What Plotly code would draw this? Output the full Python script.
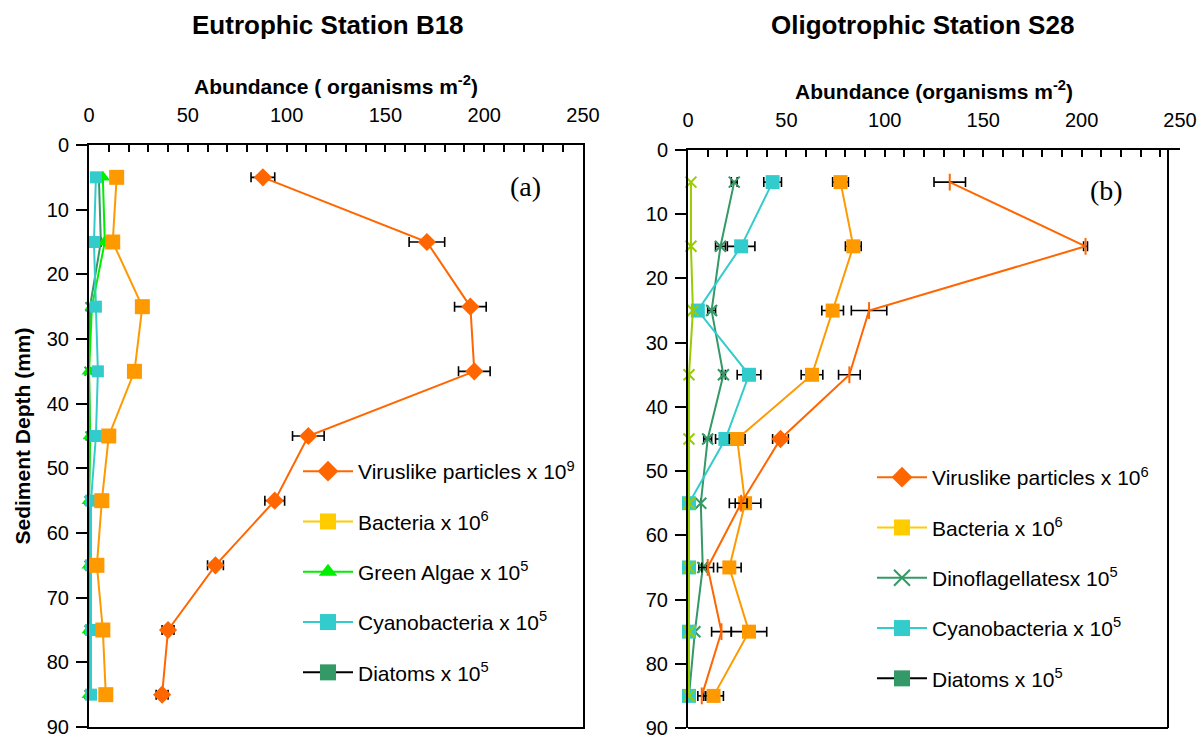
import plotly.graph_objects as go

W, H = 1201, 740
depth = [5, 15, 25, 35, 45, 55, 65, 75, 85]
ytick_vals = [0, 10, 20, 30, 40, 50, 60, 70, 80, 90]
xtick_vals = [0, 50, 100, 150, 200, 250]

# Panel (a) Eutrophic Station B18
a_virus = [88, 171, 193, 195, 111, 94, 64, 40, 37]
a_virus_err = [6, 9, 8, 8, 8, 5, 4, 3, 3]
a_bacteria = [14, 12, 27, 23, 10, 6.5, 4, 7, 8.5]
a_green = [7, 8, 1.5, 0, 0.5, 0, 0, 0, 0]
a_cyano = [3.5, 2.5, 3.5, 4.5, 3.5, 1, 1, 1, 1]
a_diatoms = [5, 6, 0.5, 0, 0.5, 0, 0, 0, 0]
a_diatoms_err = [0, 0, 2.5, 0, 0, 0, 0, 0, 0]

# Panel (b) Oligotrophic Station S28
b_virus = [133, 202, 92, 82, 47, 27, 10, 17, 7]
b_virus_err = [8, 1, 9, 5.5, 4, 3, 3, 5, 2]
b_bacteria = [77.5, 84, 73.5, 63, 25, 29, 21, 31, 13]
b_bacteria_err = [4, 4, 5.5, 5.5, 4, 8, 6, 9, 5]
b_dino = [23.5, 16.5, 12, 18, 10, 6.5, 7.5, 3.5, 0.5]
b_dino_err = [1.5, 2.5, 2, 1, 2, 0, 2, 0, 0]
b_cyano = [43, 27, 5, 31, 19, 0.5, 0.5, 0.5, 0.5]
b_cyano_err = [4.5, 7, 0, 6, 5, 0, 0, 0, 0]
b_diatoms = [1.5, 1.5, 2.5, 0.5, 0.5, 0.5, 0.5, 0.5, 0.5]

a_legend = ["Viruslike particles x 10<sup>9</sup>", "Bacteria x 10<sup>6</sup>",
            "Green Algae x 10<sup>5</sup>", "Cyanobacteria x 10<sup>5</sup>",
            "Diatoms x 10<sup>5</sup>"]
b_legend = ["Viruslike particles x 10<sup>6</sup>", "Bacteria x 10<sup>6</sup>",
            "Dinoflagellatesx 10<sup>5</sup>", "Cyanobacteria x 10<sup>5</sup>",
            "Diatoms x 10<sup>5</sup>"]

C_VIRUS = "#FF6600"
C_BACT = "#FF9900"
C_BACT_LEG = "#FFCC00"
C_GREEN = "#00EE00"
C_CYAN = "#33CCCC"
C_DIAT = "#339966"
C_YG = "#99CC00"

FONT = "Liberation Sans, Arial, sans-serif"

fig = go.Figure()


def err(arr):
    return dict(type="data", array=arr, color="black", thickness=1.6, width=5, visible=True)


def data_trace(x, color, symbol, size, xa, ya, e=None, lw=2, mcolor=None):
    fig.add_trace(go.Scatter(
        x=x, y=depth, mode="lines+markers", xaxis=xa, yaxis=ya,
        line=dict(color=color, width=lw),
        marker=dict(symbol=symbol, size=size, color=mcolor or color,
                    line=dict(width=2 if "x" in str(symbol) else 0, color=mcolor or color)),
        error_x=err(e) if e is not None else None,
        showlegend=False, cliponaxis=False, hoverinfo="skip"))


# Panel (a) data
data_trace(a_diatoms, C_DIAT, "x-thin", 9, "x", "y", a_diatoms_err, lw=2)
data_trace(a_green, C_GREEN, "triangle-up", 13, "x", "y", lw=2)
data_trace(a_cyano, C_CYAN, "square", 12, "x", "y", lw=2)
data_trace(a_bacteria, C_BACT, "square", 15, "x", "y", lw=2)
data_trace(a_virus, C_VIRUS, "diamond", 14, "x", "y", a_virus_err, lw=2)

# Panel (b) data
data_trace(b_dino, C_DIAT, "x-thin", 11, "x2", "y2", b_dino_err, lw=2)
data_trace(b_cyano, C_CYAN, "square", 14, "x2", "y2", b_cyano_err, lw=2)
data_trace(b_bacteria, C_BACT, "square", 14, "x2", "y2", b_bacteria_err, lw=2)
b_virus_sym = ["line-ns", "line-ns", "line-ns", "line-ns", "diamond", "line-ns", "line-ns", "line-ns", "line-ns"]
fig.add_trace(go.Scatter(
    x=b_virus, y=depth, mode="lines+markers", xaxis="x2", yaxis="y2",
    line=dict(color=C_VIRUS, width=2),
    marker=dict(symbol=b_virus_sym, size=12, color=C_VIRUS, line=dict(width=2, color=C_VIRUS)),
    error_x=err(b_virus_err), showlegend=False, cliponaxis=False, hoverinfo="skip"))
data_trace(b_diatoms, C_YG, "x-thin", 11, "x2", "y2", lw=2)

# Legend-only traces
leg_a = [
    (a_legend[0], C_VIRUS, C_VIRUS, "diamond"),
    (a_legend[1], C_BACT_LEG, C_BACT_LEG, "square"),
    (a_legend[2], C_GREEN, C_GREEN, "triangle-up"),
    (a_legend[3], C_CYAN, C_CYAN, "square"),
    (a_legend[4], "black", C_DIAT, "square"),
]
leg_b = [
    (b_legend[0], C_VIRUS, C_VIRUS, "diamond"),
    (b_legend[1], C_BACT_LEG, C_BACT_LEG, "square"),
    (b_legend[2], C_DIAT, C_DIAT, "x-thin"),
    (b_legend[3], C_CYAN, C_CYAN, "square"),
    (b_legend[4], "black", C_DIAT, "square"),
]
for i, (name, lc, mc, sym) in enumerate(leg_a):
    fig.add_trace(go.Scatter(x=[None], y=[None], mode="lines+markers", name=name,
                             xaxis="x", yaxis="y", legend="legend", legendgroup="a%d" % i,
                             line=dict(color=lc, width=2),
                             marker=dict(symbol=sym, size=18, color=mc, line=dict(width=2 if "x" in sym else 0, color=mc))))
for i, (name, lc, mc, sym) in enumerate(leg_b):
    fig.add_trace(go.Scatter(x=[None], y=[None], mode="lines+markers", name=name,
                             xaxis="x2", yaxis="y2", legend="legend2", legendgroup="b%d" % i,
                             line=dict(color=lc, width=2),
                             marker=dict(symbol=sym, size=18, color=mc, line=dict(width=2 if "x" in sym else 0, color=mc))))


def px(xp):
    return xp / W


def py(yp):
    return 1 - yp / H


axis_common = dict(
    showgrid=False, zeroline=False, showline=True, linecolor="black", linewidth=2,
    tickfont=dict(family=FONT, size=20, color="black"), automargin=False,
)

xa_common = dict(axis_common, range=[0, 250], side="top", tickvals=xtick_vals,
                 ticks="inside", ticklen=7, tickwidth=1.5, tickcolor="black",
                 minor=dict(dtick=10, ticks="inside", ticklen=7, tickwidth=1.5, tickcolor="black"),
                 ticklabelstandoff=13)
ya_common = dict(axis_common, range=[90, 0], tickvals=ytick_vals, ticks="outside",
                 ticklen=11, tickwidth=1.5, tickcolor="black", ticklabelstandoff=3)

TITLE_FONT = dict(family=FONT, size=21, color="black")

fig.update_layout(
    width=W, height=H, margin=dict(l=0, r=0, t=0, b=0, autoexpand=False),
    paper_bgcolor="white", plot_bgcolor="white",
    font=dict(family=FONT, color="black"),
    xaxis=dict(xa_common, domain=[px(89), px(583)], anchor="y", mirror=True,
               title=dict(text="<b>Abundance ( organisms m<sup>-2</sup>)</b>",
                          font=TITLE_FONT, standoff=4)),
    yaxis=dict(ya_common, domain=[py(727), py(145)], anchor="x", mirror=True,
               title=dict(text="<b>Sediment Depth (mm)</b>", font=TITLE_FONT, standoff=10)),
    xaxis2=dict(xa_common, domain=[px(688), px(1180)], anchor="y2",
                title=dict(text="<b>Abundance (organisms m<sup>-2</sup>)</b>",
                           font=TITLE_FONT, standoff=4)),
    yaxis2=dict(ya_common, domain=[py(728), py(150)], anchor="x2"),
    legend=dict(x=px(298), y=py(451), xanchor="left", yanchor="top",
                font=dict(family=FONT, size=21, color="black"),
                bgcolor="rgba(0,0,0,0)", traceorder="grouped", tracegroupgap=20,
                itemwidth=50),
    legend2=dict(x=px(872), y=py(457), xanchor="left", yanchor="top",
                 font=dict(family=FONT, size=21, color="black"),
                 bgcolor="rgba(0,0,0,0)", traceorder="grouped", tracegroupgap=20,
                 itemwidth=50),
    showlegend=True,
)

# Panel titles and labels
fig.add_annotation(text="<b>Eutrophic Station B18</b>", x=px(328), y=py(25), xref="paper", yref="paper",
                   xanchor="center", yanchor="middle",
                   showarrow=False, font=dict(family=FONT, size=26, color="black"))
fig.add_annotation(text="<b>Oligotrophic Station S28</b>", x=px(922), y=py(25), xref="paper", yref="paper",
                   xanchor="center", yanchor="middle",
                   showarrow=False, font=dict(family=FONT, size=26, color="black"))
fig.add_annotation(text="(a)", x=px(525), y=py(186), xref="paper", yref="paper",
                   xanchor="center", yanchor="middle",
                   showarrow=False, font=dict(family="Liberation Serif, serif", size=28, color="black"))
fig.add_annotation(text="(b)", x=px(1106), y=py(190), xref="paper", yref="paper",
                   xanchor="center", yanchor="middle",
                   showarrow=False, font=dict(family="Liberation Serif, serif", size=28, color="black"))

# Panel (b) frame: right and bottom lines
fig.add_shape(type="line", xref="paper", yref="paper", x0=px(1168), x1=px(1168), y0=py(150), y1=py(728),
              line=dict(color="black", width=2))
fig.add_shape(type="line", xref="paper", yref="paper", x0=px(688), x1=px(1168), y0=py(728), y1=py(728),
              line=dict(color="black", width=2))

fig.write_html("out.html", config={"displayModeBar": False},
               post_script="document.body.style.margin='0';")
